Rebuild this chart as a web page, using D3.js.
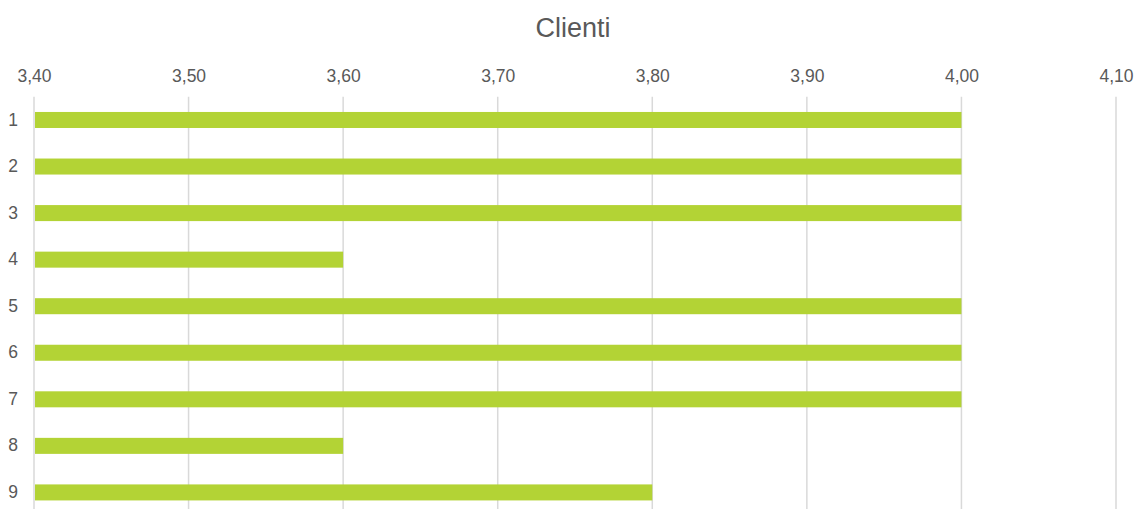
<!DOCTYPE html>
<html><head><meta charset="utf-8">
<script src="https://cdn.jsdelivr.net/npm/d3@7"></script>
<style>body{margin:0;background:#fff;}svg{display:block;}</style>
</head><body>
<svg id="chart" width="1134" height="509"></svg>
<script>
const title = "Clienti";
const categories = ["1","2","3","4","5","6","7","8","9"];
const values = [4.00,4.00,4.00,3.60,4.00,4.00,4.00,3.60,3.80];
const tickValues = [3.40,3.50,3.60,3.70,3.80,3.90,4.00,4.10];

(function(){
const svg = d3.select("#chart");
const W = 1134, H = 509;
const mLeft = 34, mRight = 1116, mTop = 96.7, mBottom = 515.7;
const font = "'Liberation Sans', Arial, sans-serif";
const textColor = "#595959";

const x = d3.scaleLinear().domain([3.40, 4.10]).range([mLeft, mRight]);
const y = d3.scaleBand().domain(categories).range([mTop, mBottom]).paddingInner(0.656).paddingOuter(0.328);

svg.append("text").attr("x", 573).attr("y", 37).attr("text-anchor", "middle")
  .attr("font-family", font).attr("font-size", 27).attr("fill", textColor).text(title);

const fmt = v => d3.format(".2f")(v).replace(".", ",");

// gridlines
svg.append("g").selectAll("line").data(tickValues).join("line")
  .attr("x1", d => x(d)).attr("x2", d => x(d))
  .attr("y1", mTop).attr("y2", H)
  .attr("stroke", "#d9d9d9").attr("stroke-width", 1.5);

// top axis labels
const axis = d3.axisTop(x).tickValues(tickValues).tickFormat(fmt).tickSize(0).tickPadding(0);
const gAxis = svg.append("g").attr("transform", "translate(0,82)").call(axis);
gAxis.select(".domain").remove();
gAxis.selectAll("text").attr("font-family", font).attr("font-size", 17.5).attr("fill", textColor);

// bars
svg.append("g").selectAll("rect").data(values).join("rect")
  .attr("x", x(3.40) + 1)
  .attr("y", (d, i) => y(categories[i]))
  .attr("width", d => x(d) - x(3.40) - 1)
  .attr("height", y.bandwidth())
  .attr("fill", "#b3d335");

// y labels
const yAxis = d3.axisLeft(y).tickSize(0).tickPadding(0);
const gy = svg.append("g").attr("transform", "translate(18,0)").call(yAxis);
gy.select(".domain").remove();
gy.selectAll("text").attr("font-family", font).attr("font-size", 17.5).attr("fill", textColor);
})();
</script>
</body></html>
